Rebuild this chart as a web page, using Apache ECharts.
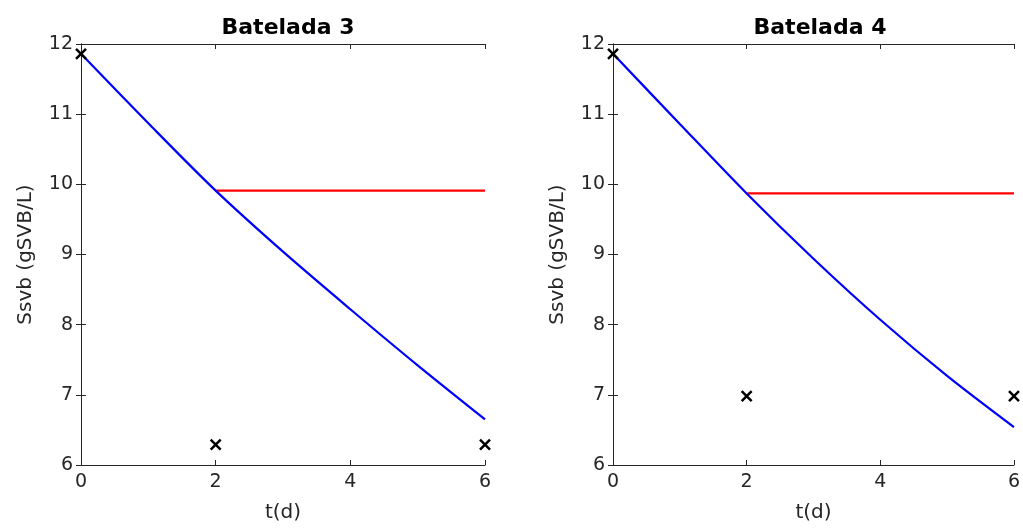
<!DOCTYPE html>
<html>
<head>
<meta charset="utf-8">
<script src="https://cdn.jsdelivr.net/npm/echarts@6/dist/echarts.min.js"></script>
<style>
  html, body { margin: 0; padding: 0; background: #fff; }
  #chart { width: 1023px; height: 529px; }
</style>
</head>
<body>
<div id="chart"></div>
<script>
// t (days)
const tModel = [0, 1, 2, 3, 4, 5, 6];
const tFlat = [2, 6];
const tObs = [0, 2, 6];

// Batelada 3
const b3Blue = [11.86, 10.87, 9.91, 9.04, 8.22, 7.42, 6.65];
const b3Red = [9.91, 9.91];
const b3Obs = [11.86, 6.29, 6.29];

// Batelada 4
const b4Blue = [11.86, 10.86, 9.87, 8.94, 8.07, 7.27, 6.54];
const b4Red = [9.87, 9.87];
const b4Obs = [11.86, 6.98, 6.98];

const titles = ['Batelada 3', 'Batelada 4'];

const FONT = '"DejaVu Sans", Verdana, sans-serif';
const AX = '#262626';
const cross = 'path://M0,0L10,10M10,0L0,10';

const grids = [
	{left: 81, top: 44, width: 404, height: 421},
	{left: 613, top: 44, width: 404, height: 421},
];

const pair = (xs, ys) => xs.map((x, i) => [x, ys[i]]);

const xAxes = [];
const yAxes = [];
const series = [];

[[b3Blue, b3Red, b3Obs], [b4Blue, b4Red, b4Obs]].forEach(([blue, red, obs], g) => {
	xAxes.push({
		gridIndex: g, type: 'value', min: 0, max: 6, interval: 2,
		name: 't(d)', nameLocation: 'middle', nameGap: 38,
		nameTextStyle: {fontFamily: FONT, fontSize: 20, color: AX},
		axisLine: {lineStyle: {color: AX, width: 1}},
		axisTick: {inside: true, length: 5, lineStyle: {color: AX}},
		axisLabel: {fontFamily: FONT, fontSize: 19, color: AX, margin: 8},
		splitLine: {show: false},
	});
	xAxes.push({
		gridIndex: g, type: 'value', min: 0, max: 6, interval: 2, position: 'top',
		axisLine: {lineStyle: {color: AX, width: 1}},
		axisTick: {inside: true, length: 5, lineStyle: {color: AX}},
		axisLabel: {show: false},
		splitLine: {show: false},
	});
	yAxes.push({
		gridIndex: g, type: 'value', min: 6, max: 12, interval: 1,
		name: 'Ssvb (gSVB/L)', nameLocation: 'middle', nameGap: 45,
		nameTextStyle: {fontFamily: FONT, fontSize: 20, color: AX},
		axisLine: {show: true, lineStyle: {color: AX, width: 1}},
		axisTick: {show: true, inside: true, length: 5, lineStyle: {color: AX}},
		axisLabel: {fontFamily: FONT, fontSize: 19, color: AX, margin: 8},
		splitLine: {show: false},
	});
	yAxes.push({
		gridIndex: g, type: 'value', min: 6, max: 12, interval: 1, position: 'right',
		axisLine: {show: true, lineStyle: {color: AX, width: 1}},
		axisTick: {show: true, inside: true, length: 5, lineStyle: {color: AX}},
		axisLabel: {show: false},
		splitLine: {show: false},
	});
	const xi = g * 2, yi = g * 2;
	series.push({
		type: 'line', xAxisIndex: xi, yAxisIndex: yi,
		data: pair(tFlat, red), symbol: 'none',
		lineStyle: {color: '#ff0000', width: 2.2}, z: 2,
	});
	series.push({
		type: 'line', xAxisIndex: xi, yAxisIndex: yi,
		data: pair(tModel, blue), symbol: 'none', smooth: 0.3,
		lineStyle: {color: '#0000ff', width: 2.2}, z: 3,
	});
	series.push({
		type: 'scatter', xAxisIndex: xi, yAxisIndex: yi,
		data: pair(tObs, obs), symbol: cross, symbolSize: 10, clip: false,
		itemStyle: {color: 'none', borderColor: '#000', borderWidth: 2.5, opacity: 1}, z: 4,
	});
});

const chart = echarts.init(document.getElementById('chart'), null, {renderer: 'canvas'});
chart.setOption({
	animation: false,
	backgroundColor: '#fff',
	title: titles.map((t, i) => ({
		text: t,
		left: grids[i].left + grids[i].width / 2,
		top: 12,
		textAlign: 'center',
		textStyle: {fontFamily: FONT, fontSize: 22, fontWeight: 'bold', color: '#000'},
	})),
	grid: grids,
	xAxis: xAxes,
	yAxis: yAxes,
	series: series,
});
</script>
</body>
</html>
